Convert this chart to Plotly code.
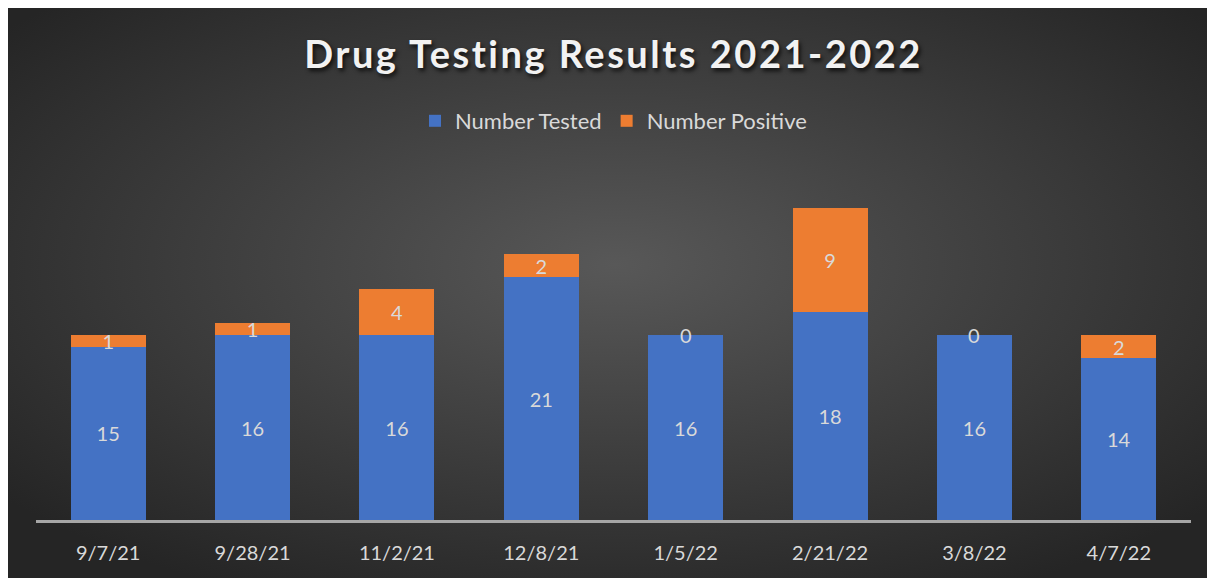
import base64
import plotly.graph_objects as go

dates = ["9/7/21", "9/28/21", "11/2/21", "12/8/21", "1/5/22", "2/21/22", "3/8/22", "4/7/22"]
number_tested = [15, 16, 16, 21, 16, 18, 16, 14]
number_positive = [1, 1, 4, 2, 0, 9, 0, 2]

TXT = "#d9d9d9"
FONT = "Lato"

W, H = 1215, 570
L, R, T, B = 28, 32, 142, 58
pw = W - L - R
ph = H - T - B

svg = (
    f'<svg xmlns="http://www.w3.org/2000/svg" width="{W}" height="{H}" viewBox="0 0 {W} {H}" preserveAspectRatio="none">'
    '<defs><radialGradient id="g" cx="50%" cy="45%" r="65%" fx="50%" fy="45%">'
    '<stop offset="0%" stop-color="#585858"/>'
    '<stop offset="100%" stop-color="#252525"/>'
    '</radialGradient></defs>'
    f'<rect width="{W}" height="{H}" fill="url(#g)"/></svg>'
)
bg_src = "data:image/svg+xml;base64," + base64.b64encode(svg.encode()).decode()

fig = go.Figure()
fig.add_trace(go.Bar(
    x=dates, y=number_tested, name="Number Tested",
    marker=dict(color="#4472C4", line=dict(width=0)),
    text=[str(v) for v in number_tested], textposition="inside",
    insidetextanchor="middle", constraintext="none", textangle=0,
    textfont=dict(color=TXT, size=20, family=FONT),
))
pos_text = [str(v) if v > 0 else "" for v in number_positive]
fig.add_trace(go.Bar(
    x=dates, y=number_positive, name="Number Positive",
    marker=dict(color="#ED7D31", line=dict(width=0)),
    text=pos_text, textposition="inside",
    insidetextanchor="middle", constraintext="none", textangle=0,
    textfont=dict(color=TXT, size=20, family=FONT),
))

# labels for zero-height segments
for d, t, p in zip(dates, number_tested, number_positive):
    if p == 0:
        fig.add_annotation(x=d, y=t + p, text=str(p), showarrow=False,
                           yanchor="middle", xanchor="center",
                           font=dict(color=TXT, size=20, family=FONT))

fig.add_layout_image(dict(
    source=bg_src, xref="paper", yref="paper",
    x=-L / pw, y=(H - B) / ph,
    sizex=W / pw, sizey=H / ph,
    xanchor="left", yanchor="top", sizing="stretch", layer="below",
))

fig.update_layout(
    width=W, height=H,
    margin=dict(l=L, r=R, t=T, b=B),
    barmode="stack", bargap=0.48,
    paper_bgcolor="#262626", plot_bgcolor="rgba(0,0,0,0)",
    title=dict(
        text='<span style="letter-spacing:2.5px">Drug Testing Results 2021-2022</span>',
        x=(L + pw / 2) / W, xanchor="center", xref="container",
        y=1 - 47 / H, yanchor="middle",
        font=dict(family=FONT, size=38, color="#f2f2f2", weight=700,
                  shadow="2px 3px 4px rgba(0,0,0,0.75)"),
    ),
    legend=dict(
        orientation="h", x=0.5, xanchor="center",
        y=(H - B - 113) / ph, yanchor="middle",
        font=dict(family=FONT, size=22, color=TXT),
        bgcolor="rgba(0,0,0,0)", itemwidth=30, traceorder="normal",
    ),
    xaxis=dict(
        type="category", showgrid=False, zeroline=False,
        showline=True, linecolor="#a6a6a6", linewidth=2.5,
        ticks="", tickfont=dict(family=FONT, size=20, color=TXT),
        ticklabelstandoff=13,
    ),
    yaxis=dict(range=[0, 32], visible=False, showgrid=False, zeroline=False),
    showlegend=True,
)

fig.write_html("out.html")
